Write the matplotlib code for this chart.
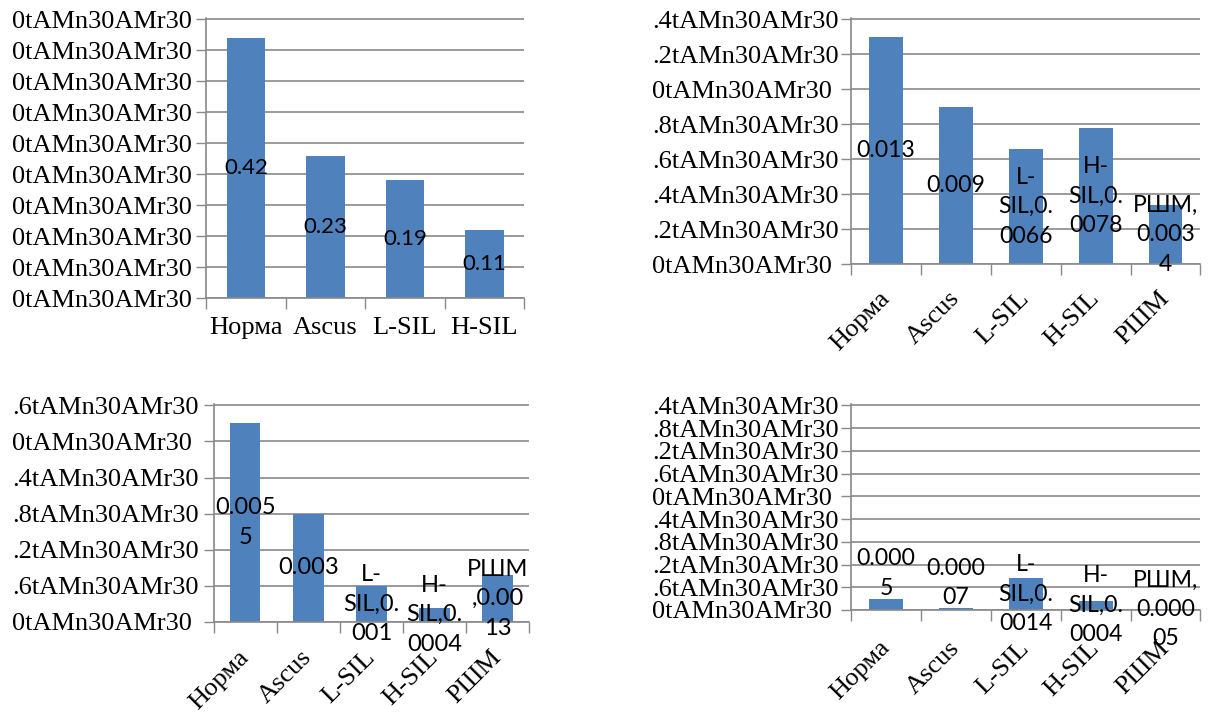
import numpy as np
import matplotlib
matplotlib.use("Agg")
import matplotlib.pyplot as plt

# ---- data ----
cats4 = ["Норма", "Ascus", "L-SIL", "H-SIL"]
cats5 = ["Норма", "Ascus", "L-SIL", "H-SIL", "РШМ"]

vals_a = [0.42, 0.23, 0.19, 0.11]
vals_b = [0.013, 0.009, 0.0066, 0.0078, 0.0034]
vals_c = [0.0055, 0.003, 0.001, 0.0004, 0.0013]
vals_d = [0.0005, 0.00007, 0.0014, 0.0004, 0.00005]

lbl_a = ["0.42", "0.23", "0.19", "0.11"]
lbl_b = ["0.013", "0.009", "L-\nSIL,0.\n0066", "H-\nSIL,0.\n0078", "РШМ,\n0.003\n4"]
lbl_c = ["0.005\n5", "0.003", "L-\nSIL,0.\n001", "H-\nSIL,0.\n0004", "РШМ\n,0.00\n13"]
lbl_d = ["0.000\n5", "0.000\n07", "L-\nSIL,0.\n0014", "H-\nSIL,0.\n0004", "РШМ,\n0.000\n05"]

ytl_a = ["0tAMn30AMr30"] * 10
ytl_b = ["0tAMn30AMr30 ", ".2tAMn30AMr30", ".4tAMn30AMr30", ".6tAMn30AMr30",
         ".8tAMn30AMr30", "0tAMn30AMr30 ", ".2tAMn30AMr30", ".4tAMn30AMr30"]
ytl_c = ["0tAMn30AMr30 ", ".6tAMn30AMr30", ".2tAMn30AMr30", ".8tAMn30AMr30",
         ".4tAMn30AMr30", "0tAMn30AMr30 ", ".6tAMn30AMr30"]
ytl_d = ["0tAMn30AMr30 ", ".6tAMn30AMr30", ".2tAMn30AMr30", ".8tAMn30AMr30",
         ".4tAMn30AMr30", "0tAMn30AMr30 ", ".6tAMn30AMr30", ".2tAMn30AMr30",
         ".8tAMn30AMr30", ".4tAMn30AMr30"]

# ---- style ----
BAR = "#4f81bd"
GRID = "#898989"
SERIF = "Liberation Serif"
SANS = "Lato"
TICKSIZE = 19.0

W, H = 1216, 713
fig = plt.figure(figsize=(W / 100, H / 100), dpi=100)
fig.patch.set_facecolor("white")


def panel(box, cats, vals, labels, yticklabels, ymax, step, *,
          lsize, ypad, rotate, catpad, label_pos=None):
    l, r, t, b = box
    ax = fig.add_axes([l / W, 1 - b / H, (r - l) / W, (b - t) / H])
    n = len(cats)
    x = np.arange(n)
    ax.bar(x, vals, width=0.485, color=BAR, zorder=2)
    ax.set_xlim(-0.5, n - 0.5)
    ax.set_ylim(0, ymax * (1 + 1.0 / (b - t)))

    ticks = np.arange(len(yticklabels)) * step
    ax.set_yticks(ticks)
    ax.set_yticklabels(yticklabels, fontfamily=SERIF, fontsize=TICKSIZE)
    ax.tick_params(axis="y", length=7.5, width=1, color=GRID, pad=ypad)
    ax.yaxis.grid(True, color=GRID, linewidth=1.2, zorder=0)
    ax.set_axisbelow(True)

    ax.set_xticks(np.arange(n + 1) - 0.5)
    ax.set_xticklabels([])
    ax.tick_params(axis="x", which="major", length=7.8, width=1, color=GRID)
    ax.set_xticks(x, minor=True)
    ax.tick_params(axis="x", which="minor", length=0, pad=catpad)
    if rotate:
        ax.set_xticklabels(cats, minor=True, fontfamily=SERIF, fontsize=TICKSIZE,
                           rotation=45, ha="right", va="center",
                           rotation_mode="anchor")
    else:
        ax.set_xticklabels(cats, minor=True, fontfamily=SERIF, fontsize=TICKSIZE)

    for s in ("top", "right"):
        ax.spines[s].set_visible(False)
    for s in ("left", "bottom"):
        ax.spines[s].set_color(GRID)
        ax.spines[s].set_linewidth(1.2)

    if label_pos is None:
        label_pos = ["center"] * n
    for xi, v, txt, pos in zip(x, vals, labels, label_pos):
        if pos == "center":
            ax.text(xi, v / 2, txt, ha="center", va="center",
                    multialignment="center", fontfamily=SANS,
                    fontsize=lsize, linespacing=1.5, zorder=3)
        else:
            ax.text(xi, v, txt, ha="center", va="bottom",
                    multialignment="center", fontfamily=SANS,
                    fontsize=lsize, linespacing=1.5, zorder=3)
    return ax


panel((206.4, 524, 18.3, 298), cats4, vals_a, lbl_a, ytl_a, 0.45, 0.05,
      lsize=16.0, ypad=3.3, rotate=False, catpad=13.5)
panel((851.1, 1200.4, 18.3, 264.3), cats5, vals_b, lbl_b, ytl_b, 0.014, 0.002,
      lsize=16.6, ypad=1.4, rotate=True, catpad=22)
panel((213.5, 529.3, 404.3, 622), cats5, vals_c, lbl_c, ytl_c, 0.006, 0.001,
      lsize=17.0, ypad=3.3, rotate=True, catpad=23)
panel((851.1, 1200.4, 404.3, 610), cats5, vals_d, lbl_d, ytl_d, 0.009, 0.001,
      lsize=16.6, ypad=1.4, rotate=True, catpad=25,
      label_pos=["outside", "outside", "center", "center", "center"])

fig.savefig("out.png", dpi=100, facecolor="white")
